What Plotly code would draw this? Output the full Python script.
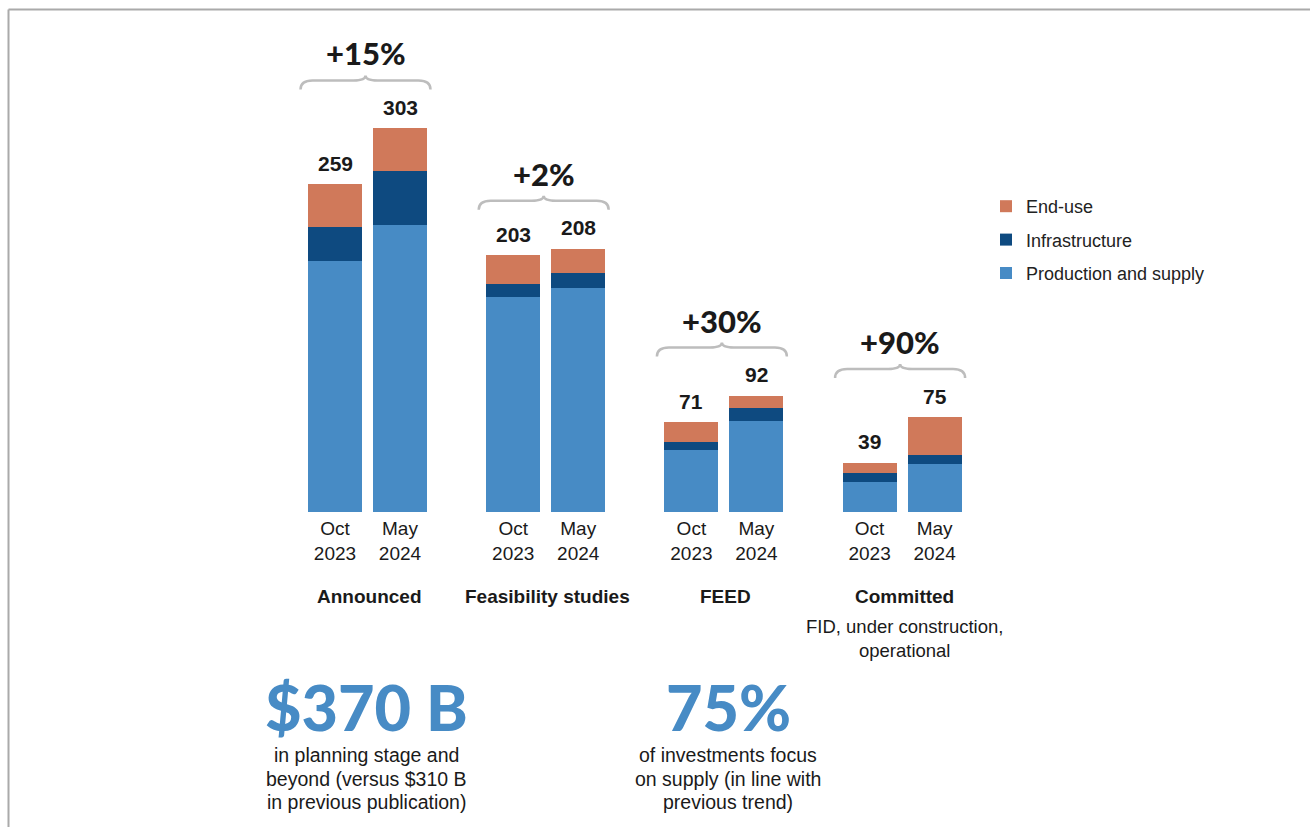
import plotly.graph_objects as go

# ---- data (USD billions) ----
stages = ["Announced", "Feasibility studies", "FEED", "Committed"]
periods = ["Oct<br>2023", "May<br>2024"]
production = [198, 227, 170, 177, 49, 72, 24, 38]
infrastructure = [27, 42, 10, 12, 6, 10, 7, 7]
end_use = [34, 34, 23, 19, 16, 10, 8, 30]
growth_labels = ["+15%", "+2%", "+30%", "+90%"]
stage_notes = ["", "", "", "FID, under construction,<br>operational"]
kpi_values = ["$370 B", "75%"]
kpi_captions = [["in planning stage and", "beyond (versus $310 B", "in previous publication)"],
                ["of investments focus", "on supply (in line with", "previous trend)"]]

C_PROD = "#478BC5"
C_INFRA = "#0E4A80"
C_END = "#D0795A"
INK = "#1a1a1a"
BASE = "Liberation Sans"
HEAD = "Lato"

W, H = 1310, 827
BASELINE_PX = 512
PX_PER_UNIT = 1.266
Y_TOP = BASELINE_PX / PX_PER_UNIT
PX_PER_GROUP = 178.2
X0 = -367.5 / PX_PER_GROUP
X1 = X0 + W / PX_PER_GROUP

OFFSET = 0.1824
BAR_W = 0.303

xs, ticks = [], []
for g in range(len(stages)):
    for j, p in enumerate(periods):
        xs.append(g + (-OFFSET if j == 0 else OFFSET))
        ticks.append(p)

totals = [a + b + c for a, b, c in zip(production, infrastructure, end_use)]


def dy(px):
    return px / PX_PER_UNIT


def dx(px):
    return px / PX_PER_GROUP


fig = go.Figure()
for rank, (name, vals, col) in zip([3, 2, 1], [("Production and supply", production, C_PROD),
                                               ("Infrastructure", infrastructure, C_INFRA),
                                               ("End-use", end_use, C_END)]):
    fig.add_trace(go.Bar(x=xs, y=vals, name=name, marker_color=col,
                         marker_line_width=0, width=BAR_W, legendgroup=name,
                         legendrank=rank))

annotations = []
shapes = []

# totals above each bar
for x, t in zip(xs, totals):
    annotations.append(dict(x=x, y=t, yshift=21, text=f"<b>{t}</b>", showarrow=False,
                            font=dict(family=BASE, size=21, color=INK),
                            xref="x", yref="y", xanchor="center"))

# braces and growth labels
for g in range(len(stages)):
    top = max(totals[2 * g], totals[2 * g + 1])
    yb = top + dy(48)
    ye = yb - dy(9)
    yt = yb + dy(5)
    xl = g - dx(67)
    xr = g + dx(63)
    xc = g - dx(2)
    r = dx(12)
    path = (f"M {xl},{ye} Q {xl},{yb} {xl + r},{yb} L {xc - r},{yb} "
            f"Q {xc},{yb} {xc},{yt} Q {xc},{yb} {xc + r},{yb} "
            f"L {xr - r},{yb} Q {xr},{yb} {xr},{ye}")
    shapes.append(dict(type="path", path=path, xref="x", yref="y",
                       line=dict(color="#bdbdbd", width=2.5)))
    annotations.append(dict(x=xc, y=yb, yshift=27, text=growth_labels[g], showarrow=False,
                            font=dict(family=HEAD, size=31, color=INK, weight=900),
                            xref="x", yref="y", xanchor="center"))

# stage names below tick labels
for g, s in enumerate(stages):
    annotations.append(dict(x=g + dx(2), y=1 - 596 / H, text=f"<b>{s}</b>", showarrow=False,
                            font=dict(family=BASE, size=19, color=INK),
                            xref="x", yref="paper", xanchor="center", yanchor="middle"))
    if stage_notes[g]:
        annotations.append(dict(x=g + dx(2), y=1 - 614 / H, text=stage_notes[g], showarrow=False,
                                font=dict(family=BASE, size=18.5, color=INK),
                                xref="x", yref="paper", xanchor="center", yanchor="top"))

# key figures with captions
kpi_centers = [366, 728]
for big, lines, cx in zip(kpi_values, kpi_captions, kpi_centers):
    annotations.append(dict(x=cx / W, y=1 - 706 / H, text=big, showarrow=False,
                            font=dict(family=HEAD, size=63, color=C_PROD, weight=900),
                            xref="paper", yref="paper", xanchor="center", yanchor="middle"))
    for i, line in enumerate(lines):
        annotations.append(dict(x=cx / W, y=1 - (755 + 23.5 * i) / H, text=line, showarrow=False,
                                font=dict(family=BASE, size=19.5, color=INK),
                                xref="paper", yref="paper", xanchor="center", yanchor="middle"))

# frame lines
shapes.append(dict(type="line", xref="paper", yref="paper", x0=8.5 / W, x1=1, y0=1 - 9.5 / H,
                   y1=1 - 9.5 / H, line=dict(color="#aaaaaa", width=2)))
shapes.append(dict(type="line", xref="paper", yref="paper", x0=8.5 / W, x1=8.5 / W, y0=0,
                   y1=1 - 9.5 / H, line=dict(color="#aaaaaa", width=2)))

fig.update_layout(
    width=W, height=H,
    barmode="stack",
    bargap=0,
    plot_bgcolor="white", paper_bgcolor="white",
    margin=dict(l=0, r=0, t=0, b=0, autoexpand=False),
    xaxis=dict(range=[X0, X1], domain=[0, 1], tickvals=xs, ticktext=ticks,
               showgrid=False, zeroline=False, showline=False, ticks="",
               ticklabelstandoff=3,
               tickfont=dict(family=BASE, size=19, color=INK)),
    yaxis=dict(range=[0, Y_TOP], domain=[1 - BASELINE_PX / H, 1], visible=False,
               showgrid=False, zeroline=False),
    legend=dict(x=986 / W, y=1 - 188 / H, xanchor="left", yanchor="top",
                traceorder="grouped", tracegroupgap=7,
                font=dict(family=BASE, size=18, color="#222222"),
                bgcolor="rgba(0,0,0,0)"),
    annotations=annotations,
    shapes=shapes,
    showlegend=True,
)

fig.write_html("out.html")
